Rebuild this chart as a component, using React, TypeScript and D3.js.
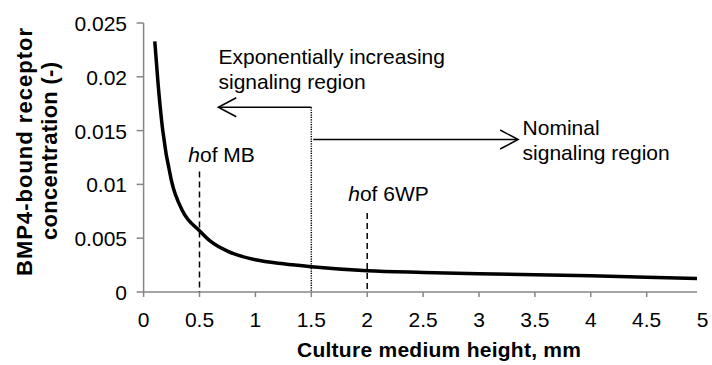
import React from "react";
import * as d3 from "d3";

// ---- data ----
const heights = [0.1, 0.13, 0.17, 0.25, 0.35, 0.5, 0.6, 0.75, 0.85, 1.0, 1.25, 1.5, 2.0, 2.5, 3.0, 3.5, 4.0, 4.5, 4.95];
const concentration = [0.0233, 0.0193, 0.0151, 0.0103, 0.0075, 0.0057, 0.0047, 0.0038, 0.0034, 0.003, 0.00262, 0.00235, 0.00198, 0.00182, 0.0017, 0.0016, 0.0015, 0.00138, 0.00125];
const xTicks = [0, 0.5, 1, 1.5, 2, 2.5, 3, 3.5, 4, 4.5, 5];
const yTicks = [0, 0.005, 0.01, 0.015, 0.02, 0.025];
const yTickLabels = ["0", "0.005", "0.01", "0.015", "0.02", "0.025"];
const xTitle = "Culture medium height, mm";
const yTitleLines = ["BMP4-bound receptor", "concentration (-)"];

// reference heights (dashed)
const refHeights = [
  { x: 0.5, top: 0.0112, label: "of MB", lx: 0.4, ly: 0.0121 },
  { x: 2.0, top: 0.00734, label: "of 6WP", lx: 1.83, ly: 0.00849 },
];
// boundary between regions
const boundaryX = 1.5;
const leftArrow = { from: 1.5, to: 0.668, y: 0.01717 };
const rightArrow = { from: 1.5, to: 3.35, y: 0.01417 };
const leftText = { x: 0.67, lines: ["Exponentially increasing", "signaling region"], ys: [0.0212, 0.01887] };
const rightText = { x: 3.39, lines: ["Nominal", "signaling region"], ys: [0.01459, 0.01227] };

const W = 712;
const H = 365;
const FONT = "'Liberation Sans', Arial, sans-serif";
const AXIS = "#868686";
const FS = 21;

export default function App() {
  const x = d3.scaleLinear().domain([0, 5]).range([143.6, 702.6]);
  const y = d3.scaleLinear().domain([0, 0.025]).range([292, 23]);
  const pts = heights.map((h, i) => [h, concentration[i]] as [number, number]);
  const line = d3
    .line<[number, number]>()
    .x((d) => x(d[0]))
    .y((d) => y(d[1]))
    .curve(d3.curveMonotoneX);

  const arrowHead = (tipX: number, tipY: number, dir: number) => {
    const dx = 18 * dir;
    return `M${tipX + dx},${tipY - 9.5} L${tipX},${tipY} L${tipX + dx},${tipY + 9.5}`;
  };

  return (
    <svg
      width={W}
      height={H}
      style={{ position: "absolute", left: 0, top: 0, background: "#fff" }}
      fontFamily={FONT}
    >
      <defs>
        <clipPath id="plotclip">
          <rect x={0} y={0} width={697} height={H} />
        </clipPath>
      </defs>
      <rect width={W} height={H} fill="#fff" />

      {/* axes */}
      <g clipPath="url(#plotclip)">
        <line x1={x(0)} x2={x(5)} y1={y(0)} y2={y(0)} stroke={AXIS} strokeWidth={1.5} />
      </g>
      <line x1={x(0)} x2={x(0)} y1={y(0)} y2={y(0.025)} stroke={AXIS} strokeWidth={1.5} />
      {yTicks.map((t, i) => (
        <g key={"y" + i}>
          <line x1={x(0) - 7} x2={x(0)} y1={y(t)} y2={y(t)} stroke={AXIS} strokeWidth={1.5} />
          <text x={127} y={y(t) + 8} textAnchor="end" fontSize={FS} fill="#000">
            {yTickLabels[i]}
          </text>
        </g>
      ))}
      {xTicks.map((t, i) => (
        <g key={"x" + i}>
          {t < 5 && (
            <line x1={x(t)} x2={x(t)} y1={y(0)} y2={y(0) + 5} stroke={AXIS} strokeWidth={1.5} />
          )}
          <text x={x(t)} y={327} textAnchor="middle" fontSize={FS} fill="#000">
            {String(t)}
          </text>
        </g>
      ))}

      {/* axis titles */}
      <text
        x={(297 + 581) / 2}
        y={357}
        textAnchor="middle"
        fontSize={21}
        fontWeight="bold"
        textLength={284}
        lengthAdjust="spacing"
        fill="#000"
      >
        {xTitle}
      </text>
      <text
        transform="translate(32,152) rotate(-90)"
        textAnchor="middle"
        fontSize={22}
        fontWeight="bold"
        textLength={248}
        lengthAdjust="spacing"
        fill="#000"
      >
        {yTitleLines[0]}
      </text>
      <text
        transform="translate(57,151) rotate(-90)"
        textAnchor="middle"
        fontSize={22}
        fontWeight="bold"
        textLength={178}
        lengthAdjust="spacing"
        fill="#000"
      >
        {yTitleLines[1]}
      </text>

      {/* reference heights */}
      {refHeights.map((r, i) => (
        <g key={"r" + i}>
          <line
            x1={x(r.x)}
            x2={x(r.x)}
            y1={y(r.top)}
            y2={y(0)}
            stroke="#000"
            strokeWidth={1.5}
            strokeDasharray="6,4"
          />
          <text x={x(r.lx)} y={y(r.ly)} fontSize={FS} fill="#000">
            <tspan fontStyle="italic">h</tspan>
            <tspan>{r.label}</tspan>
          </text>
        </g>
      ))}

      {/* boundary dotted line */}
      <line
        x1={x(boundaryX)}
        x2={x(boundaryX)}
        y1={y(leftArrow.y)}
        y2={y(0)}
        stroke="#000"
        strokeWidth={1.5}
        strokeDasharray="1.2,1.2"
      />

      {/* arrows */}
      <line x1={x(leftArrow.from)} x2={x(leftArrow.to)} y1={y(leftArrow.y)} y2={y(leftArrow.y)} stroke="#000" strokeWidth={1.5} />
      <path d={arrowHead(x(leftArrow.to), y(leftArrow.y), 1)} fill="none" stroke="#000" strokeWidth={1.5} />
      <line x1={x(rightArrow.from) + 2} x2={x(rightArrow.to)} y1={y(rightArrow.y)} y2={y(rightArrow.y)} stroke="#000" strokeWidth={1.5} />
      <path d={arrowHead(x(rightArrow.to), y(rightArrow.y), -1)} fill="none" stroke="#000" strokeWidth={1.5} />

      {/* region texts */}
      {leftText.lines.map((l, i) => (
        <text key={"lt" + i} x={x(leftText.x)} y={y(leftText.ys[i])} fontSize={FS} fill="#000">
          {l}
        </text>
      ))}
      {rightText.lines.map((l, i) => (
        <text key={"rt" + i} x={x(rightText.x)} y={y(rightText.ys[i])} fontSize={FS} fill="#000">
          {l}
        </text>
      ))}

      {/* curve */}
      <g clipPath="url(#plotclip)">
        <path d={line(pts) || ""} fill="none" stroke="#000" strokeWidth={3.5} strokeLinejoin="round" />
      </g>
    </svg>
  );
}
